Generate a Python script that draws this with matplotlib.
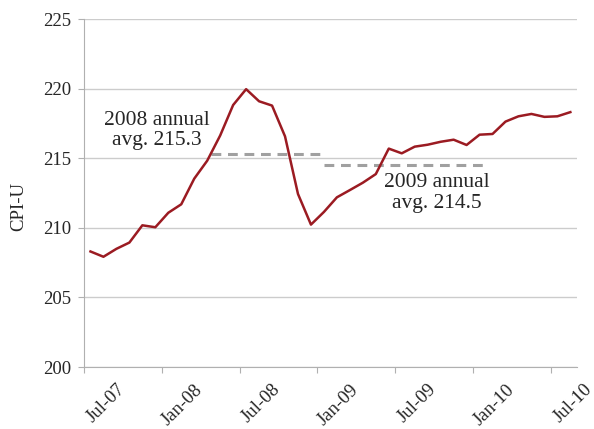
import matplotlib
matplotlib.use("Agg")
import matplotlib.pyplot as plt

# monthly CPI-U, Jul-07 .. Aug-10
months = ["Jul-07", "Aug-07", "Sep-07", "Oct-07", "Nov-07", "Dec-07",
          "Jan-08", "Feb-08", "Mar-08", "Apr-08", "May-08", "Jun-08",
          "Jul-08", "Aug-08", "Sep-08", "Oct-08", "Nov-08", "Dec-08",
          "Jan-09", "Feb-09", "Mar-09", "Apr-09", "May-09", "Jun-09",
          "Jul-09", "Aug-09", "Sep-09", "Oct-09", "Nov-09", "Dec-09",
          "Jan-10", "Feb-10", "Mar-10", "Apr-10", "May-10", "Jun-10",
          "Jul-10", "Aug-10"]
cpi = [208.30, 207.92, 208.49, 208.94, 210.18, 210.04,
       211.08, 211.69, 213.53, 214.82, 216.63, 218.82,
       219.96, 219.09, 218.78, 216.57, 212.43, 210.23,
       211.14, 212.19, 212.71, 213.24, 213.86, 215.69,
       215.35, 215.83, 215.97, 216.18, 216.33, 215.95,
       216.69, 216.74, 217.63, 218.01, 218.18, 217.97,
       218.01, 218.31]

avg_2008 = 215.3
avg_2008_span = [9.3, 17.8]
avg_2009 = 214.5
avg_2009_span = [18.0, 30.3]

tick_labels = ["Jul-07", "Jan-08", "Jul-08", "Jan-09", "Jul-09", "Jan-10", "Jul-10"]
yticks = [200, 205, 210, 215, 220, 225]

plt.rcParams['font.family'] = ['Liberation Serif', 'DejaVu Serif']

fig = plt.figure(figsize=(5.94, 4.29), dpi=100)
ax = fig.add_axes([0.1414, 0.1445, 0.8297, 0.8112])

x = list(range(len(cpi)))
ax.plot(x, cpi, color="#9b1b22", lw=1.8, zorder=3)

ax.plot(avg_2008_span, [avg_2008, avg_2008], color="#a0a0a0", lw=2.2,
        dashes=(3.2, 2.2), zorder=2)
ax.plot(avg_2009_span, [avg_2009, avg_2009], color="#a0a0a0", lw=2.2,
        dashes=(3.2, 2.2), zorder=2)

ax.text(5.1, 217.0, "2008 annual\navg. %.1f" % avg_2008, ha="center", va="center",
        fontsize=15.5, color="#262626", linespacing=1.1)
ax.text(26.7, 212.5, "2009 annual\navg. %.1f" % avg_2009, ha="center", va="center",
        fontsize=15.5, color="#262626", linespacing=1.1)

ax.set_xlim(-0.5, len(cpi) - 0.5)
ax.set_ylim(200, 225)
ax.set_yticks(yticks)
ax.yaxis.grid(True, color="#cccccc", lw=1.0)
ax.set_axisbelow(True)

ax.set_xticks([i * 6 - 0.5 for i in range(len(tick_labels))])
ax.set_xticklabels([])
for i, lab in enumerate(tick_labels):
    ax.text(i * 6 + 2.0, -0.04, lab, transform=ax.get_xaxis_transform(),
            rotation=45, ha="right", va="top", rotation_mode="anchor",
            fontsize=13.5, color="#262626")

for s in ["top", "right"]:
    ax.spines[s].set_visible(False)
for s in ["left", "bottom"]:
    ax.spines[s].set_color("#b0b0b0")
ax.tick_params(axis="both", colors="#b0b0b0", length=4, labelcolor="#262626",
               labelsize=13.5)
ax.tick_params(axis="y", pad=5)

ax.set_ylabel("CPI-U", fontsize=13.5, color="#262626")
ax.yaxis.set_label_coords(-0.116, 0.46)

fig.savefig("out.png", dpi=100)
